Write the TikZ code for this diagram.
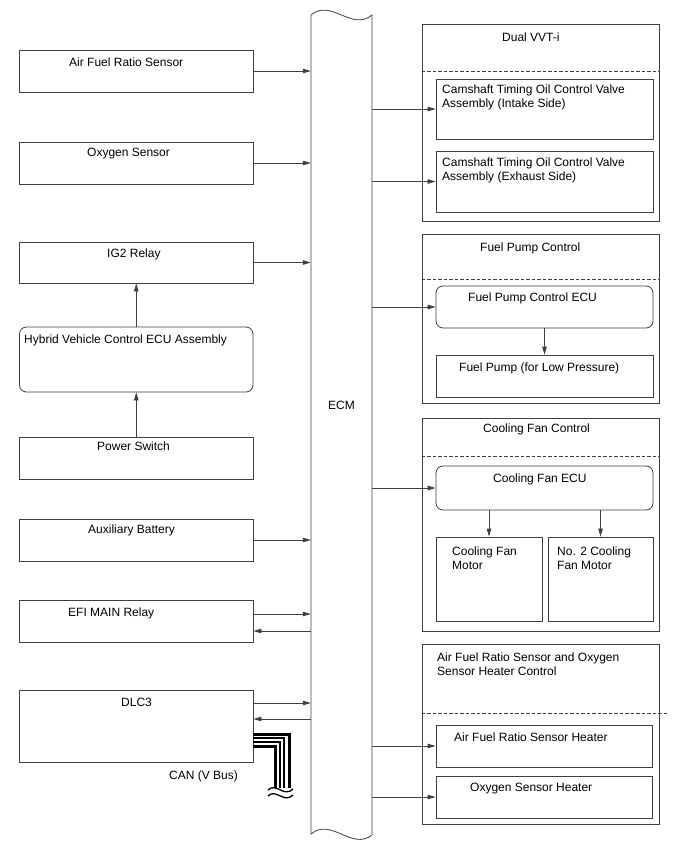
\documentclass[tikz,border=0pt]{standalone}
\usepackage{fontspec}
\setmainfont{Liberation Sans}
\usetikzlibrary{arrows.meta,fit}
\begin{document}
\begin{tikzpicture}[x=1pt,y=-1pt,
  ln/.style={draw=black!75, line width=0.8pt},
  box/.style={ln, inner sep=0pt},
  rbox/.style={box, rounded corners=7pt},
  txt/.style={inner sep=0pt, anchor=north west, align=left, font=\fontsize{12}{13.8}\selectfont},
  arr/.style={ln, -{Triangle[length=8pt,width=4.5pt]}},
  sep/.style={ln, dash pattern=on 3.5pt off 2pt},
  thickwire/.style={draw=black, line width=3pt, line cap=butt},
  thinwire/.style={draw=black, line width=1.2pt, line cap=butt},
  brk/.style={draw=black, line width=1.3pt}
]
\path[use as bounding box, fill=white] (0,0) rectangle (688,852);

% ECM
\node[inner sep=0pt, fit={(311,15) (372,835)}] (ecm) {};
\draw[ln] (311,15) .. controls (331,-2) and (352,32) .. (372,15) -- (372,835)
  .. controls (352,851) and (331,817) .. (311,834) -- cycle;
\node[txt] (ecmT) at (328,401) {ECM};

% Left side boxes
\node[box, fit={(19.5,50) (253,92)}] (afr) {};
\node[txt] (afrT) at (69,58) {Air Fuel Ratio Sensor};
\node[box, fit={(19.5,142) (253,184)}] (o2) {};
\node[txt] (o2T) at (87,148) {Oxygen Sensor};
\node[box, fit={(19.5,242) (253,283)}] (ig2) {};
\node[txt] (ig2T) at (107,249) {IG2 Relay};
\node[rbox, fit={(19.5,327) (253,392)}] (hv) {};
\node[txt] (hvT) at (24,335) {Hybrid Vehicle Control ECU Assembly};
\node[box, fit={(19.5,437) (253,479)}] (ps) {};
\node[txt] (psT) at (97,442) {Power Switch};
\node[box, fit={(19.5,519) (253,561)}] (aux) {};
\node[txt] (auxT) at (88,525) {Auxiliary Battery};
\node[box, fit={(19.5,600) (253,642)}] (efi) {};
\node[txt] (efiT) at (68,608) {EFI MAIN Relay};
\node[box, fit={(19.5,690) (253,762)}] (dlc) {};
\node[txt] (dlcT) at (121,698) {DLC3};
\node[txt] (canT) at (169,771) {CAN (V Bus)};

% left arrows
\draw[arr] (afr.east) -- (afr.east -| ecm.west);
\draw[arr] (o2.east) -- (o2.east -| ecm.west);
\draw[arr] (ig2.east) -- (ig2.east -| ecm.west);
\draw[arr] (hv.north) -- (ig2.south);
\draw[arr] (ps.north) -- (hv.south);
\draw[arr] (aux.east) -- (aux.east -| ecm.west);
\draw[arr] ([yshift=7pt]efi.east) -- ([yshift=7pt]efi.east -| ecm.west);
\draw[arr] ([yshift=-10pt]efi.east -| ecm.west) -- ([yshift=-10pt]efi.east);
\draw[arr] ([yshift=23pt]dlc.east) -- ([yshift=23pt]dlc.east -| ecm.west);
\draw[arr] ([yshift=7pt]dlc.east -| ecm.west) -- ([yshift=7pt]dlc.east);

% CAN wires
\coordinate (w1) at (289,788);
\coordinate (w2) at (284,788);
\coordinate (w3) at (280,788);
\coordinate (w4) at (275.5,788);
\draw[thickwire] ([yshift=-8pt]dlc.east) -| (w1);
\draw[thinwire] ([yshift=-12pt]dlc.east) -| (w2);
\draw[thinwire] ([yshift=-16pt]dlc.east) -| (w3);
\draw[thickwire] ([yshift=-20.5pt]dlc.east) -| (w4);
\coordinate (b1s) at (268,790);
\coordinate (b1e) at (293,789);
\coordinate (b2s) at (268,796);
\coordinate (b2e) at (293,795);
\draw[brk] (b1s) .. controls (276,782) and (284,798) .. (b1e);
\draw[brk] (b2s) .. controls (276,788) and (284,804) .. (b2e);

% Dual VVT-i
\node[box, fit={(422,24) (659,221)}] (vvt) {};
\node[txt] (vvtT) at (502,33) {Dual VVT-i};
\draw[sep] ([yshift=-48pt]vvt.north west) -- ([yshift=-48pt]vvt.north east);
\node[box, fit={(436,79) (653,139)}] (cam1) {};
\node[txt] (cam1T) at (442,85) {Camshaft Timing Oil Control Valve\\Assembly (Intake Side)};
\node[box, fit={(436,151) (653,212)}] (cam2) {};
\node[txt] (cam2T) at (442,158) {Camshaft Timing Oil Control Valve\\Assembly (Exhaust Side)};
\draw[arr] (ecm.east |- cam1.west) -- (cam1.west);
\draw[arr] (ecm.east |- cam2.west) -- (cam2.west);

% Fuel Pump Control
\node[box, fit={(422,234) (659,403)}] (fpc) {};
\node[txt] (fpcT) at (480,243) {Fuel Pump Control};
\draw[sep] ([yshift=-46pt]fpc.north west) -- ([yshift=-46pt]fpc.north east);
\node[rbox, fit={(436,286) (653,328)}] (fpecu) {};
\node[txt] (fpecuT) at (468,293) {Fuel Pump Control ECU};
\node[box, fit={(436,355) (653,397)}] (fp) {};
\node[txt] (fpT) at (459,363) {Fuel Pump (for Low Pressure)};
\draw[arr] (ecm.east |- fpecu.west) -- (fpecu.west);
\draw[arr] (fpecu.south) -- (fp.north);

% Cooling Fan Control
\node[box, fit={(422,418) (659,631)}] (cfc) {};
\node[txt] (cfcT) at (483,424) {Cooling Fan Control};
\draw[sep] ([yshift=-39pt]cfc.north west) -- ([yshift=-39pt]cfc.north east);
\node[rbox, fit={(436,466) (653,510)}] (cfecu) {};
\node[txt] (cfecuT) at (493,474) {Cooling Fan ECU};
\node[box, fit={(436,537) (542,621)}] (cfm1) {};
\node[txt] (cfm1T) at (452,547) {Cooling Fan\\Motor};
\node[box, fit={(548,537) (653,621)}] (cfm2) {};
\node[txt] (cfm2T) at (557,547) {No. 2 Cooling\\Fan Motor};
\draw[arr] (ecm.east |- cfecu.west) -- (cfecu.west);
\draw[arr] (cfecu.south -| cfm1.north) -- (cfm1.north);
\draw[arr] (cfecu.south -| cfm2.north) -- (cfm2.north);

% Air Fuel Ratio Sensor and Oxygen Sensor Heater Control
\node[box, fit={(422,644) (659,824)}] (afh) {};
\node[txt] (afhT) at (437,653) {Air Fuel Ratio Sensor and Oxygen\\Sensor Heater Control};
\draw[sep] ([yshift=-70pt]afh.north west) -- ([yshift=-70pt,xshift=8pt]afh.north east);
\node[box, fit={(436,725) (652,767)}] (h1) {};
\node[txt] (h1T) at (454,733) {Air Fuel Ratio Sensor Heater};
\node[box, fit={(436,776) (652,818)}] (h2) {};
\node[txt] (h2T) at (470,783) {Oxygen Sensor Heater};
\draw[arr] (ecm.east |- h1.west) -- (h1.west);
\draw[arr] (ecm.east |- h2.west) -- (h2.west);
\end{tikzpicture}
\end{document}
